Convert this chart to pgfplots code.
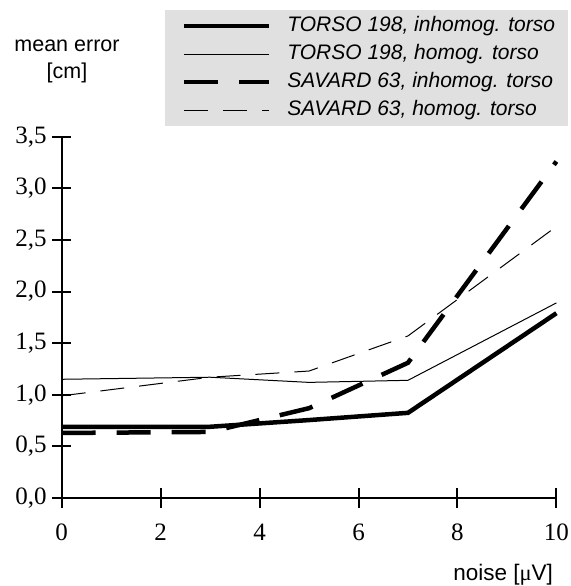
\documentclass[border=0pt]{standalone}
\usepackage{fontspec}
\setmainfont{Liberation Sans}
\newfontfamily\tnr{Liberation Serif}
\usepackage{pgfplots}
\pgfplotsset{compat=1.18}

\begin{document}
\begin{tikzpicture}
    % frame of the reference image, 1px = 1pt, axis origin at (0,0)
    \useasboundingbox (-61.7pt,-88pt) rectangle (508.3pt,498pt);
    \begin{axis}[
            scale only axis,
            width=494.7pt,
            height=361.3pt,
            xmin=0, xmax=10,
            ymin=0, ymax=3.5,
            enlargelimits=false,
            clip=false,
            axis lines=left,
            axis line style={-, line width=2pt},
            every non boxed x axis/.append style={xtick align=center},
            every non boxed y axis/.append style={ytick align=center},
            xtick={0,2,4,6,8,10},
            ytick={0,0.5,1,1.5,2,2.5,3,3.5},
            major tick length=19pt,
            major tick style={line width=2pt, black},
            xticklabel shift=13pt,
            yticklabel shift=2pt,
            /pgf/number format/assume math mode=true,
            tick label style={font=\tnr\fontsize{25}{25}\selectfont},
            yticklabel style={/pgf/number format/.cd, fixed, fixed zerofill, precision=1, use comma},
            xlabel={noise [{\tnr μ}V]},
            xlabel style={at={(rel axis cs:1,0)}, anchor=base east, xshift=0pt, yshift=-82pt,
                font=\fontsize{22.5}{22.5}\selectfont},
            ylabel={mean error\\{}[cm]},
            ylabel style={at={(axis description cs:0.0107,1.2095)}, anchor=center, rotate=-90,
                align=center, font=\fontsize{21.5}{27}\selectfont},
            legend image code/.code={\draw[#1] (0pt,0pt) -- (85pt,0pt);},
            legend cell align=left,
            legend style={
                    at={(0.2088,1.3507)},
                    anchor=north west,
                    fill=black!12,
                    draw=none,
                    inner xsep=16.7pt,
                    inner ysep=6pt,
                    row sep=8pt,
                    column sep=16pt,
                    font=\itshape\fontsize{21}{21}\selectfont,
                    nodes={inner sep=0pt, text height=15pt, text depth=5pt, anchor=west}
                }
        ]

        % TORSO 198, inhomogeneous torso
        \addplot[black, line width=4.5pt] coordinates {
                (0,0.69) (3,0.69) (5,0.755) (7,0.825) (10,1.79)
            };
        \addlegendentry{\makebox[264pt][l]{TORSO 198, inhomog. torso}}

        % TORSO 198, homogeneous torso
        \addplot[black, line width=1pt] coordinates {
                (0,1.15) (3,1.17) (5,1.12) (7,1.14) (10,1.89)
            };
        \addlegendentry{\makebox[264pt][l]{TORSO 198, homog. torso}}

        % SAVARD 63, inhomogeneous torso
        \addplot[black, line width=4.5pt, dash pattern=on 34pt off 21pt] coordinates {
                (0,0.63) (3,0.64) (5,0.87) (7,1.31) (10,3.26)
            };
        \addlegendentry{\makebox[264pt][l]{SAVARD 63, inhomog. torso}}

        % SAVARD 63, homogeneous torso
        \addplot[black, line width=1pt, dash pattern=on 24pt off 15pt] coordinates {
                (0,0.99) (3,1.17) (5,1.23) (7,1.57) (10,2.63)
            };
        \addlegendentry{\makebox[264pt][l]{SAVARD 63, homog. torso}}

    \end{axis}
\end{tikzpicture}
\end{document}
